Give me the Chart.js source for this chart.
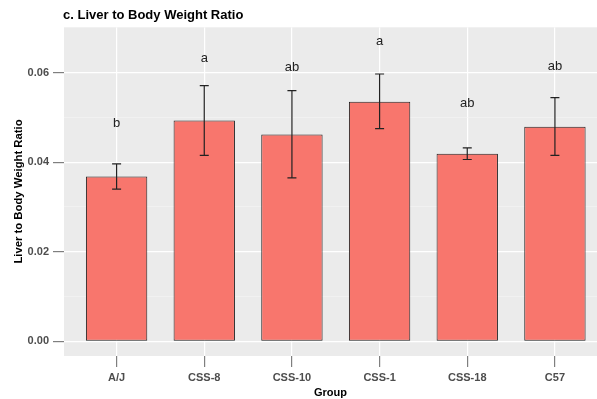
<!DOCTYPE html>
<html>
<head>
<meta charset="utf-8">
<script src="https://cdn.jsdelivr.net/npm/chart.js@4.4.1/dist/chart.umd.min.js"></script>
<style>
  html, body { margin: 0; padding: 0; background: #fff; }
  #wrap { width: 597px; height: 399px; position: relative; }
</style>
</head>
<body>
<div id="wrap"><canvas id="liverChart"></canvas></div>
<script>
    // Data
    const groups = ['A/J', 'CSS-8', 'CSS-10', 'CSS-1', 'CSS-18', 'C57'];
    const ratioMean = [0.0368, 0.0493, 0.0462, 0.0535, 0.0419, 0.0479];
    const errLow = [0.0340, 0.0415, 0.0365, 0.0475, 0.0406, 0.0415];
    const errHigh = [0.0396, 0.0571, 0.0560, 0.0597, 0.0432, 0.0544];
    const sigLetters = ['b', 'a', 'ab', 'a', 'ab', 'ab'];
    const letterY = [0.0487, 0.0632, 0.0612, 0.0669, 0.0532, 0.0615];
    const yGridValues = [0, 0.01, 0.02, 0.03, 0.04, 0.05, 0.06, 0.07];
    const yMajorTicks = [0, 0.02, 0.04, 0.06];

    const FONT = "'Liberation Sans', Arial, Helvetica, sans-serif";
    const isMajor = v => yMajorTicks.some(m => Math.abs(m - v) < 1e-9);

    // Panel background, title, error bars and letters
    const ggPanel = {
      id: 'ggPanel',
      beforeDraw(chart) {
        const a = chart.chartArea, c = chart.ctx;
        c.save();
        c.fillStyle = '#EBEBEB';
        c.fillRect(a.left, a.top, a.right - a.left, a.bottom - a.top);
        c.fillStyle = '#000';
        c.font = 'bold 13px ' + FONT;
        c.textBaseline = 'middle';
        c.textAlign = 'left';
        c.fillText('c. Liver to Body Weight Ratio', 63, 15);
        c.restore();
      },
      afterDatasetsDraw(chart) {
        const x = chart.scales.x, y = chart.scales.y, c = chart.ctx;
        c.save();
        c.strokeStyle = '#222';
        c.lineWidth = 1.2;
        groups.forEach((g, i) => {
          const px = x.getPixelForValue(i);
          const lo = y.getPixelForValue(errLow[i]);
          const hi = y.getPixelForValue(errHigh[i]);
          c.beginPath();
          c.moveTo(px, lo); c.lineTo(px, hi);
          c.moveTo(px - 4.5, lo); c.lineTo(px + 4.5, lo);
          c.moveTo(px - 4.5, hi); c.lineTo(px + 4.5, hi);
          c.stroke();
        });
        c.fillStyle = '#222';
        c.font = '13px ' + FONT;
        c.textAlign = 'center';
        c.textBaseline = 'middle';
        sigLetters.forEach((s, i) => {
          c.fillText(s, x.getPixelForValue(i), y.getPixelForValue(letterY[i]));
        });
        c.restore();
      }
    };

    const ctx = document.getElementById('liverChart').getContext('2d');
    const chart = new Chart(ctx, {
      type: 'bar',
      data: {
        datasets: [{
          label: 'Liver to Body Weight Ratio',
          data: ratioMean.map((v, i) => ({ x: i, y: v })),
          backgroundColor: '#F8766D',
          borderColor: '#222222',
          borderWidth: 1,
          borderSkipped: false,
          barPercentage: 0.7,
          categoryPercentage: 1
        }]
      },
      options: {
        responsive: true,
        maintainAspectRatio: false,
        animation: false,
        layout: { padding: { top: 27, right: 0, left: 0, bottom: 0 } },
        plugins: {
          legend: { display: false },
          tooltip: { enabled: false }
        },
        scales: {
          x: {
            type: 'linear',
            offset: false,
            min: -0.6,
            max: 5.48,
            afterBuildTicks: s => { s.ticks = groups.map((g, i) => ({ value: i })); },
            afterFit: s => { s.height = 43; },
            border: { display: false },
            grid: {
              offset: false,
              color: '#FFFFFF',
              lineWidth: 1.2,
              tickColor: '#7F7F7F',
              tickLength: 11
            },
            ticks: {
              color: '#4D4D4D',
              padding: 4,
              maxRotation: 0,
              font: { family: FONT, size: 11, weight: 'bold' },
              callback: v => groups[v]
            },
            title: {
              display: true,
              text: 'Group',
              color: '#000',
              padding: { top: 0, bottom: -1 },
              font: { family: FONT, size: 11, weight: 'bold' }
            }
          },
          y: {
            min: -0.0033,
            max: 0.0702,
            afterBuildTicks: s => { s.ticks = yGridValues.map(v => ({ value: v })); },
            afterFit: s => { s.width = 64; },
            border: { display: false },
            grid: {
              color: c => isMajor(c.tick.value) ? '#FFFFFF' : '#F5F5F5',
              lineWidth: c => isMajor(c.tick.value) ? 1.2 : 0.6,
              tickColor: c => isMajor(c.tick.value) ? '#7F7F7F' : 'rgba(0,0,0,0)',
              tickLength: 11
            },
            ticks: {
              color: '#4D4D4D',
              padding: 4,
              font: { family: FONT, size: 11, weight: 'bold' },
              callback: v => isMajor(v) ? v.toFixed(2) : ''
            },
            title: {
              display: true,
              text: 'Liver to Body Weight Ratio',
              color: '#000',
              padding: { top: 12, bottom: 0 },
              font: { family: FONT, size: 11.3, weight: 'bold' }
            }
          }
        }
      },
      plugins: [ggPanel]
    });
</script>
</body>
</html>
